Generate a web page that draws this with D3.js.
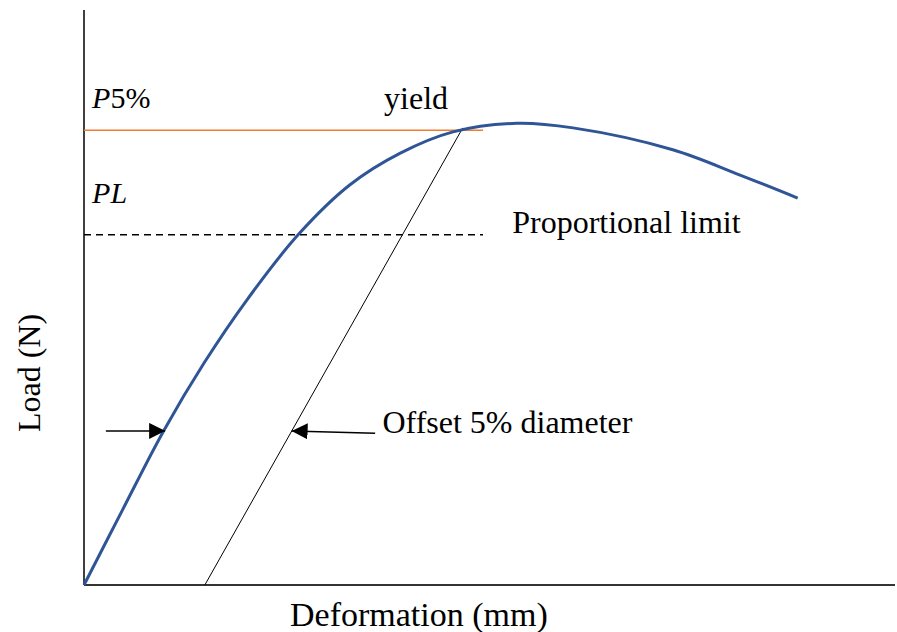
<!DOCTYPE html>
<html>
<head>
<meta charset="utf-8">
<script src="https://cdn.jsdelivr.net/npm/d3@7"></script>
<style>
  html, body { margin: 0; padding: 0; background: #fff; }
</style>
</head>
<body>
<div id="chart"></div>
<script>
// load-deformation curve (arbitrary units, no ticks on the original)
const deformation = [0, 0.48, 0.99, 1.48, 2.01, 2.64, 3.28, 3.90, 4.55, 5.34, 6.03, 7.26, 8.09, 8.80];
const load        = [0, 1.32, 2.70, 3.86, 4.96, 6.09, 6.96, 7.51, 7.88, 8.03, 7.95, 7.57, 7.13, 6.73];

// reference levels
const p5Load = 7.91;
const plLoad = 6.09;
const levelEnd = 4.92;

// 5% offset line
const offsetX = [1.49, 4.67];
const offsetY = [0, 7.95];

// arrows: [x0, y0, x1, y1] (tail -> tip)
const arrows = [
    [0.27, 2.68, 1.00, 2.68],
    [3.59, 2.64, 2.56, 2.68]
];

// annotation anchors (data units)
const labels = [
    { text: "5%", italic: "P", x: 0.10, y: 8.30, small: true },
    { text: "yield", x: 3.70, y: 8.28 },
    { text: "", italic: "PL", x: 0.10, y: 6.64, small: true },
    { text: "Proportional limit", x: 5.28, y: 6.13 },
    { text: "Offset 5% diameter", x: 3.68, y: 2.64 }
];

const WIDTH = 897;
const HEIGHT = 632;
const FONT = "'Liberation Serif', 'Times New Roman', Tinos, 'DejaVu Serif', serif";

const svg = d3.select("#chart")
    .append("svg")
    .attr("width", WIDTH)
    .attr("height", HEIGHT)
    .style("font-family", FONT);

const x = d3.scaleLinear().domain([0, 10]).range([84, 895]);
const y = d3.scaleLinear().domain([0, 10]).range([585, 10]);

svg.append("defs").append("marker")
    .attr("id", "head")
    .attr("viewBox", "0 0 16 16")
    .attr("refX", 16)
    .attr("refY", 8)
    .attr("markerWidth", 16)
    .attr("markerHeight", 16)
    .attr("markerUnits", "userSpaceOnUse")
    .attr("orient", "auto")
    .append("path")
    .attr("d", "M0,0 L16,8 L0,16 Z")
    .attr("fill", "#000");

// axes (plain lines, no ticks)
svg.append("line")
    .attr("x1", x(0)).attr("x2", x(0))
    .attr("y1", y(0)).attr("y2", y(10))
    .attr("stroke", "#000").attr("stroke-width", 1.5);
svg.append("line")
    .attr("x1", x(0)).attr("x2", x(10))
    .attr("y1", y(0)).attr("y2", y(0))
    .attr("stroke", "#333").attr("stroke-width", 2);

// reference lines
svg.append("line")
    .attr("x1", x(0)).attr("x2", x(levelEnd))
    .attr("y1", y(p5Load)).attr("y2", y(p5Load))
    .attr("stroke", "#ed7d31").attr("stroke-width", 1.5);
svg.append("line")
    .attr("x1", x(0)).attr("x2", x(levelEnd))
    .attr("y1", y(plLoad)).attr("y2", y(plLoad))
    .attr("stroke", "#000").attr("stroke-width", 1.5)
    .attr("stroke-dasharray", "7,5");

svg.append("line")
    .attr("x1", x(offsetX[0])).attr("y1", y(offsetY[0]))
    .attr("x2", x(offsetX[1])).attr("y2", y(offsetY[1]))
    .attr("stroke", "#000").attr("stroke-width", 1);

const line = d3.line()
    .x(d => x(d[0]))
    .y(d => y(d[1]))
    .curve(d3.curveCatmullRom.alpha(0.5));

svg.append("path")
    .datum(d3.zip(deformation, load))
    .attr("d", line)
    .attr("fill", "none")
    .attr("stroke", "#2f5597")
    .attr("stroke-width", 3);

svg.selectAll(".arrow")
    .data(arrows)
    .join("line")
    .attr("class", "arrow")
    .attr("x1", d => x(d[0])).attr("y1", d => y(d[1]))
    .attr("x2", d => x(d[2])).attr("y2", d => y(d[3]))
    .attr("stroke", "#000").attr("stroke-width", 1.5)
    .attr("marker-end", "url(#head)");

const lab = svg.selectAll(".lab")
    .data(labels)
    .join("text")
    .attr("class", "lab")
    .attr("x", d => x(d.x))
    .attr("y", d => y(d.y))
    .attr("font-size", d => d.small ? 30 : 32)
    .attr("fill", "#000");
lab.append("tspan")
    .attr("font-style", "italic")
    .text(d => d.italic || "");
lab.append("tspan").text(d => d.text);

svg.append("text")
    .attr("x", 290)
    .attr("y", 626)
    .attr("font-size", 34)
    .text("Deformation (mm)");

svg.append("text")
    .attr("transform", "translate(40,373) rotate(-90)")
    .attr("text-anchor", "middle")
    .attr("font-size", 32)
    .text("Load (N)");
</script>
</body>
</html>
